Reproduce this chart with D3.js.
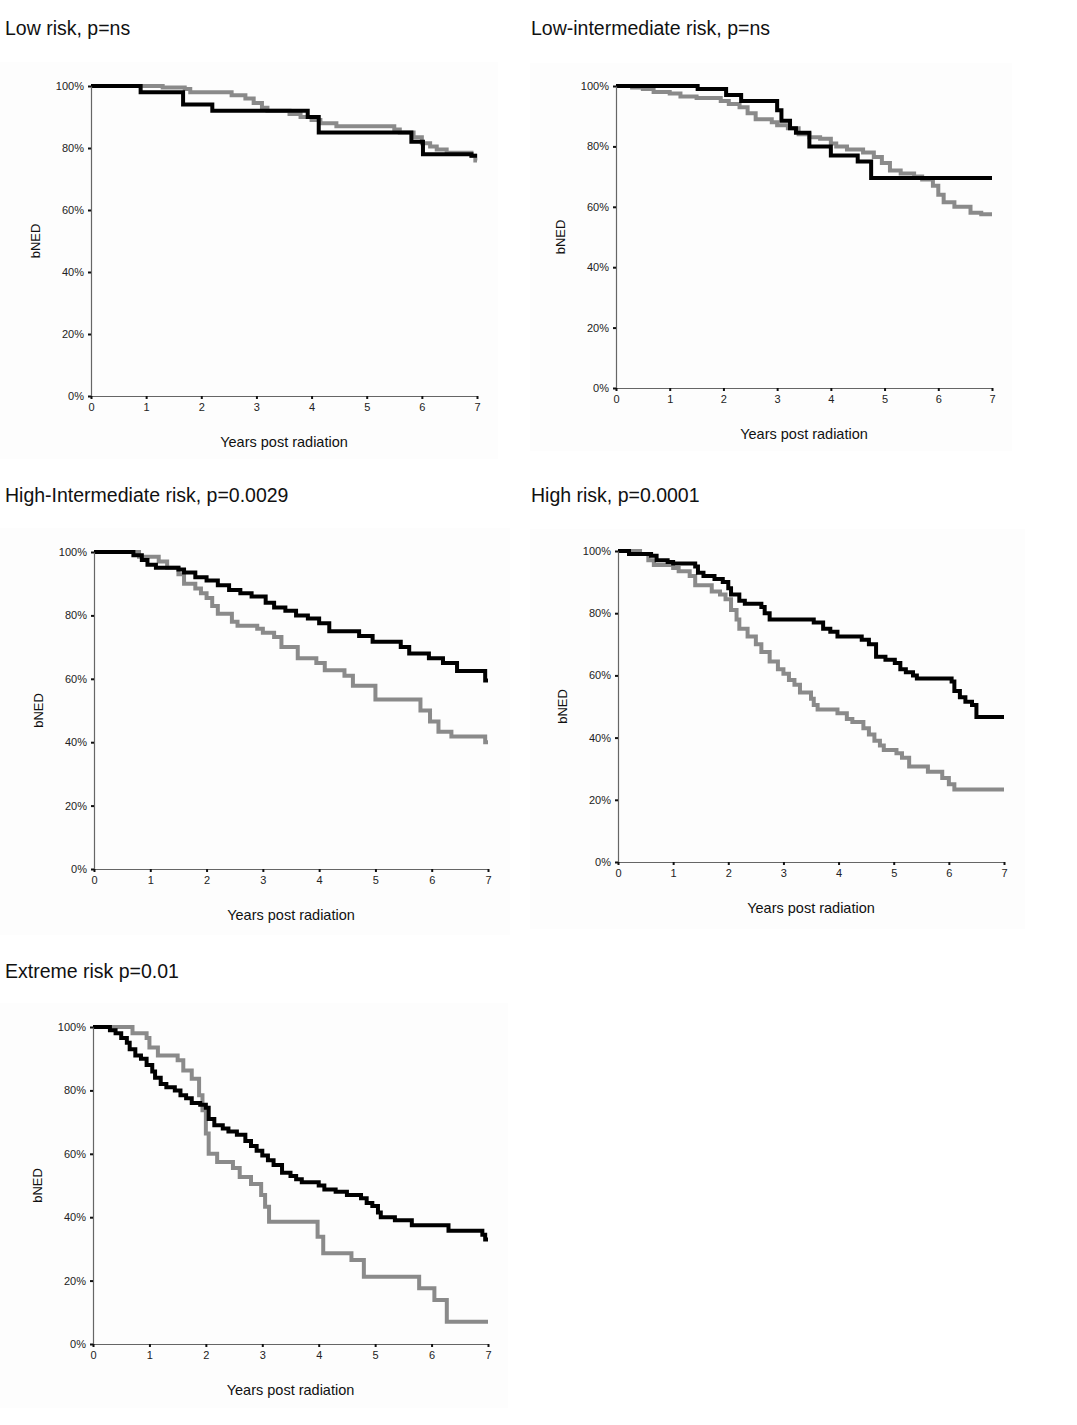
<!DOCTYPE html>
<html>

<head>
    <meta charset="utf-8">
    <script src="https://d3js.org/d3.v7.min.js"></script>
    <style>
        body {
            margin: 0;
            background: #fff;
            font-family: Arial, "Liberation Sans", sans-serif;
        }

        svg text {
            fill: #111;
        }

        .axis path {
            stroke: #666;
            stroke-width: 1.2px;
        }

        .axis line {
            stroke: #111;
            stroke-width: 2px;
        }

        .axis text {
            font-size: 11px;
            fill: #222;
        }

        .curve {
            fill: none;
            stroke-width: 4px;
            stroke-linejoin: miter;
        }
    </style>
</head>

<body>
    <div id="chart"></div>
    <script>
        // Kaplan-Meier steps: [years, bNED %]
        var lowRiskBlack = [[0, 100], [0.9, 98], [1.67, 94], [2.2, 92], [3.93, 90], [4.13, 85], [5.81, 82], [6.02, 78], [6.9, 77.5], [7, 77.5]];
        var lowRiskGray = [[0, 100], [1.3, 99.5], [1.7, 99], [1.8, 98], [2.55, 97], [2.8, 96], [2.95, 94.5], [3.1, 93], [3.2, 92], [3.6, 91], [3.8, 90], [4.0, 89], [4.16, 88], [4.45, 87], [5.5, 86], [5.6, 85], [5.85, 83.5], [6.0, 81.5], [6.15, 80.5], [6.27, 79.5], [6.45, 78.5], [6.9, 77.5], [6.97, 76], [7, 76]];

        var lowIntBlack = [[0, 100], [1.52, 99], [2.05, 97], [2.33, 95], [3.0, 92], [3.08, 88.5], [3.24, 86], [3.35, 84.5], [3.6, 80], [4.0, 77], [4.5, 75], [4.75, 69.5], [7, 69.5]];
        var lowIntGray = [[0, 100], [0.3, 99.5], [0.5, 99], [0.7, 98], [1.0, 97.5], [1.2, 96.5], [1.5, 96], [1.95, 95], [2.1, 94], [2.3, 93], [2.45, 91], [2.6, 89], [2.9, 88], [3.0, 87], [3.2, 86], [3.4, 84], [3.6, 83], [3.8, 82.5], [4.0, 81], [4.1, 80], [4.3, 79], [4.6, 78], [4.8, 76.5], [4.95, 74.5], [5.1, 72], [5.3, 71], [5.55, 70], [5.7, 69], [5.9, 67], [6.0, 64], [6.1, 61.5], [6.3, 60], [6.6, 58], [6.8, 57.5], [7, 57.5]];

        var highIntBlack = [[0, 100], [0.7, 99], [0.85, 97.5], [0.95, 96], [1.1, 95], [1.5, 94.5], [1.6, 93.5], [1.8, 92], [2.0, 91], [2.2, 89.5], [2.4, 88], [2.6, 87], [2.8, 86], [3.05, 84], [3.2, 82.5], [3.4, 81.5], [3.59, 80], [3.8, 79], [4.0, 77.5], [4.18, 75], [4.71, 73.5], [4.95, 71.7], [5.45, 70], [5.6, 68], [5.95, 66.5], [6.2, 65], [6.45, 62.5], [6.95, 59.5], [7, 59.5]];
        var highIntGray = [[0, 100], [0.8, 98.5], [1.15, 97], [1.3, 95], [1.5, 93], [1.6, 90], [1.8, 88.5], [1.9, 87], [2.0, 85.5], [2.1, 83], [2.2, 80.5], [2.45, 78], [2.55, 76.7], [2.9, 75.8], [3.0, 74.5], [3.2, 73.2], [3.33, 70], [3.62, 66.5], [3.95, 65], [4.1, 62.7], [4.45, 61], [4.6, 57.8], [5.0, 53.5], [5.8, 50], [5.97, 46.5], [6.12, 43.3], [6.35, 41.8], [6.95, 40], [7, 40]];

        var highBlack = [[0, 100], [0.2, 99], [0.6, 98.5], [0.7, 97], [0.9, 96.5], [1.0, 96], [1.4, 95], [1.45, 93], [1.55, 92], [1.75, 91], [1.9, 90], [2.0, 88], [2.05, 86], [2.2, 84], [2.3, 83], [2.6, 82], [2.66, 80], [2.75, 78], [3.55, 77], [3.72, 75], [3.85, 74], [3.98, 72.5], [4.42, 71.5], [4.55, 70], [4.68, 66], [4.85, 65], [5.02, 64], [5.12, 62], [5.22, 61], [5.35, 60], [5.42, 59], [6.05, 58], [6.1, 55], [6.2, 53], [6.3, 51.5], [6.42, 50.5], [6.5, 46.6], [7, 46.6]];
        var highGray = [[0, 100], [0.4, 99], [0.55, 97], [0.65, 95.5], [1.0, 94.5], [1.1, 93.5], [1.3, 92], [1.4, 89], [1.7, 87], [1.85, 86], [1.95, 84.5], [2.05, 81], [2.15, 78], [2.2, 75], [2.35, 72.5], [2.5, 70], [2.6, 67.5], [2.75, 64.5], [2.9, 62], [3.0, 60.5], [3.1, 58.5], [3.2, 57], [3.3, 54.5], [3.5, 52.5], [3.55, 50.5], [3.62, 49], [3.98, 47.8], [4.15, 46], [4.25, 45], [4.45, 43], [4.55, 41], [4.65, 39], [4.75, 37.5], [4.82, 36], [5.05, 35], [5.15, 33.5], [5.28, 30.7], [5.62, 29], [5.88, 27], [6.0, 25], [6.1, 23.3], [7, 23.3]];

        var extremeBlack = [[0, 100], [0.3, 99], [0.4, 98], [0.5, 96.5], [0.6, 95], [0.65, 93], [0.75, 91], [0.85, 90], [0.95, 88], [1.05, 86], [1.1, 84], [1.2, 82], [1.3, 81], [1.45, 80], [1.55, 78.5], [1.65, 77.5], [1.75, 76], [1.9, 75.5], [2.0, 74.5], [2.05, 71], [2.15, 69], [2.3, 68], [2.4, 67], [2.55, 66], [2.7, 64], [2.8, 62.5], [2.9, 61], [3.0, 59.5], [3.1, 58], [3.2, 56.5], [3.35, 54], [3.5, 53], [3.6, 52], [3.7, 51], [4.0, 50], [4.1, 48.7], [4.3, 48], [4.5, 47], [4.75, 46], [4.85, 44.5], [4.95, 43.5], [5.05, 41.5], [5.1, 40], [5.35, 39], [5.65, 37.5], [6.3, 35.7], [6.9, 34.5], [6.95, 33], [7, 33]];
        var extremeGray = [[0, 100], [0.7, 98], [0.95, 96.5], [1.0, 93.5], [1.15, 91], [1.5, 89.5], [1.6, 86.3], [1.75, 83.7], [1.88, 78.5], [1.94, 73.7], [2.0, 66.4], [2.05, 60], [2.2, 57.4], [2.48, 55.5], [2.6, 52.7], [2.8, 50.5], [2.98, 47], [3.05, 43.3], [3.12, 38.6], [3.98, 33.8], [4.08, 28.6], [4.58, 26.5], [4.8, 21.2], [5.78, 17.6], [6.05, 13.9], [6.27, 7], [7, 7]];

        var yTicks = [0, 20, 40, 60, 80, 100];
        var xTicks = [0, 1, 2, 3, 4, 5, 6, 7];

        var panels = [
            {
                title: "Low risk, p=ns", tx: 5, ty: 35,
                bg: [0, 62, 498, 397], x0: 91, x1: 477, yTop: 86, yBot: 396,
                black: lowRiskBlack, gray: lowRiskGray
            },
            {
                title: "Low-intermediate risk, p=ns", tx: 531, ty: 35,
                bg: [530, 63, 482, 388], x0: 616, x1: 992, yTop: 86, yBot: 388,
                black: lowIntBlack, gray: lowIntGray
            },
            {
                title: "High-Intermediate risk, p=0.0029", tx: 5, ty: 502,
                bg: [0, 528, 510, 407], x0: 94, x1: 488, yTop: 552, yBot: 869,
                black: highIntBlack, gray: highIntGray
            },
            {
                title: "High risk, p=0.0001", tx: 531, ty: 502,
                bg: [530, 529, 495, 400], x0: 618, x1: 1004, yTop: 551, yBot: 862,
                black: highBlack, gray: highGray
            },
            {
                title: "Extreme risk p=0.01", tx: 5, ty: 978,
                bg: [0, 1003, 508, 405], x0: 93, x1: 488, yTop: 1027, yBot: 1344,
                black: extremeBlack, gray: extremeGray
            }
        ];

        var svg = d3.select("#chart").append("svg")
            .attr("width", 1077)
            .attr("height", 1425);

        panels.forEach(drawPanel);

        function drawPanel(p) {
            var g = svg.append("g");

            g.append("rect")
                .attr("x", p.bg[0]).attr("y", p.bg[1])
                .attr("width", p.bg[2]).attr("height", p.bg[3])
                .attr("fill", "#fdfdfd");

            g.append("text")
                .attr("x", p.tx).attr("y", p.ty)
                .style("font-size", "19.5px")
                .text(p.title);

            var x = d3.scaleLinear().domain([0, 7]).range([p.x0, p.x1]);
            var y = d3.scaleLinear().domain([0, 100]).range([p.yBot, p.yTop]);

            var line = d3.line()
                .x(d => x(d[0]))
                .y(d => y(d[1]))
                .curve(d3.curveStepAfter);

            g.append("path").attr("class", "curve")
                .attr("stroke", "#8a8a8a")
                .attr("d", line(p.gray));

            g.append("path").attr("class", "curve")
                .attr("stroke", "#000")
                .attr("d", line(p.black));

            g.append("g").attr("class", "axis")
                .attr("transform", `translate(${p.x0},0)`)
                .call(d3.axisLeft(y).tickValues(yTicks).tickSize(3).tickSizeOuter(0).tickPadding(4).tickFormat(d => d + "%"));

            g.append("g").attr("class", "axis")
                .attr("transform", `translate(0,${p.yBot})`)
                .call(d3.axisBottom(x).tickValues(xTicks).tickSize(3).tickSizeOuter(0).tickPadding(4).tickFormat(d3.format("d")));

            g.append("text")
                .attr("transform", `translate(${p.x0 - 56},${(p.yTop + p.yBot) / 2}) rotate(-90)`)
                .attr("text-anchor", "middle")
                .attr("dy", "0.35em")
                .style("font-size", "13px")
                .text("bNED");

            g.append("text")
                .attr("x", (p.x0 + p.x1) / 2)
                .attr("y", p.yBot + 51)
                .attr("text-anchor", "middle")
                .style("font-size", "14.5px")
                .text("Years post radiation");
        }
    </script>
</body>

</html>
